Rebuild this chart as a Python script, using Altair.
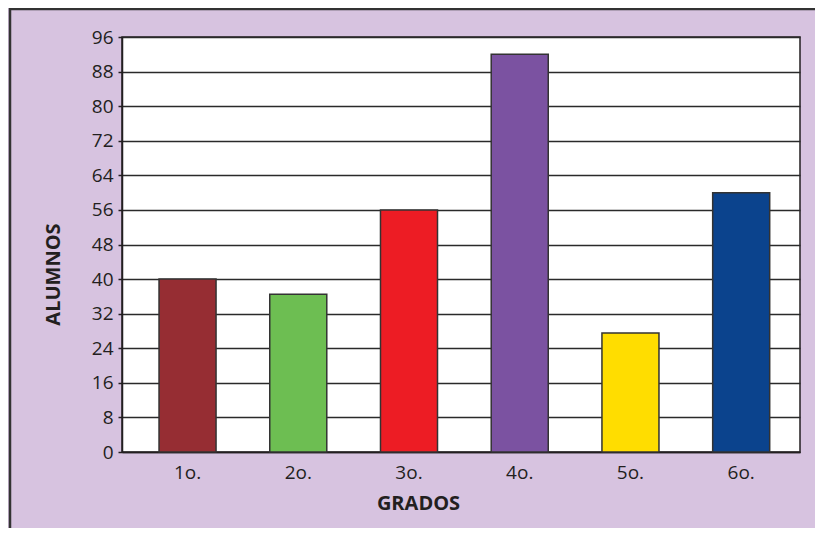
import altair as alt
import pandas as pd

grados = ["1o.", "2o.", "3o.", "4o.", "5o.", "6o."]
alumnos = [40, 36.5, 56, 92, 27.5, 60]
colores = ["#962D33", "#6DBE52", "#ED1C24", "#7B52A1", "#FFDD00", "#0B438D"]
y_ticks = list(range(0, 97, 8))

df = pd.DataFrame({"grado": grados, "alumnos": alumnos, "color": colores})

FONT = "Open Sans"

bars = alt.Chart(df).mark_bar(stroke="#333333", strokeWidth=1.5).encode(
    x=alt.X(
        "grado:N",
        sort=grados,
        scale=alt.Scale(paddingInner=0.485, paddingOuter=0.304, align=0.55),
        axis=alt.Axis(
            title="GRADOS",
            labelAngle=0,
            ticks=False,
            labelPadding=11,
            labelFontSize=19,
            labelColor="#231F20",
            labelFont=FONT,
            titleFont=FONT,
            titleFontSize=20,
            titleFontWeight="bold",
            titleColor="#231F20",
            titleX=296,
            titleY=51,
            titleBaseline="middle",
            titleAlign="center",
            domainColor="#231F20",
            domainWidth=1.5,
            grid=False,
        ),
    ),
    y=alt.Y(
        "alumnos:Q",
        scale=alt.Scale(domain=[0, 96], nice=False),
        axis=alt.Axis(
            title="ALUMNOS",
            values=y_ticks,
            tickSize=4,
            tickColor="#231F20",
            tickWidth=1.5,
            labelPadding=5,
            labelFontSize=19,
            labelColor="#231F20",
            labelFont=FONT,
            titleFont=FONT,
            titleFontSize=20,
            titleFontWeight="bold",
            titleColor="#231F20",
            titleX=-69,
            titleY=237,
            titleAngle=270,
            titleBaseline="middle",
            titleAlign="center",
            domainColor="#231F20",
            domainWidth=1.5,
            grid=True,
            gridColor="#2a2a2a",
            gridWidth=1.5,
        ),
    ),
    color=alt.Color("color:N", scale=None, legend=None),
)

frame = alt.Chart(alt.Data(values=[{"a": 1}])).mark_rect(
    fill="transparent", stroke="#333333", strokeWidth=2.5
).encode(
    x=alt.value(-112),
    x2=alt.value(900),
    y=alt.value(-28),
    y2=alt.value(700),
)

chart = alt.layer(frame, bars).properties(
    width=678,
    height=415,
    background="#D7C3E0",
    padding={"left": 114, "top": 29, "right": 15, "bottom": 76},
    autosize=alt.AutoSizeParams(type="none"),
).configure_view(
    fill="white", stroke="#231F20", strokeWidth=1.5
)

chart.save("out.html", embed_options={"renderer": "svg", "actions": False})
